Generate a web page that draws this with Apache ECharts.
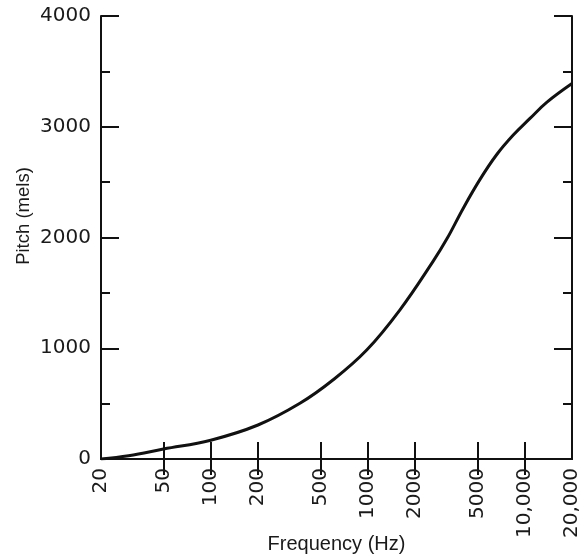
<!DOCTYPE html>
<html>
<head>
<meta charset="utf-8">
<script src="https://cdn.jsdelivr.net/npm/echarts@6/dist/echarts.min.js"></script>
<style>
html,body{margin:0;padding:0;background:#fff;}
#chart{width:581px;height:558px;}
</style>
</head>
<body>
<div id="chart"></div>
<script>
// Data
var frequencyHz = [20, 30, 50, 100, 200, 370, 600, 985, 1600, 2600, 3200, 4060, 5190, 6600, 8450, 10800, 13800, 20000];
var pitchMels   = [0, 30, 90, 170, 307, 503, 713, 984, 1345, 1782, 1990, 2265, 2525, 2745, 2925, 3075, 3220, 3390];
var xTickFreqs  = [50, 100, 200, 500, 1000, 2000, 5000, 10000];
var xLabelFreqs = [20, 50, 100, 200, 500, 1000, 2000, 5000, 10000, 20000];
var xMinHz = 20, xMaxHz = 20000;
var yMin = 0, yMax = 4000, yStep = 1000;
var xTitle = 'Frequency (Hz)';
var yTitle = 'Pitch (mels)';

var L = Math.log10;
var seriesData = frequencyHz.map(function (f, i) { return [L(f), pitchMels[i]]; });
function fmt(v) {
  var f = Math.round(Math.pow(10, v));
  if (f >= 10000) return f.toLocaleString('en-US');
  return String(f);
}
var FONT = 'DejaVu Sans';
var TFONT = 'Liberation Sans';
var axisLine = { show: true, lineStyle: { color: '#111', width: 2 } };

var chart = echarts.init(document.getElementById('chart'), null, { renderer: 'canvas' });
chart.setOption({
  animation: false,
  backgroundColor: '#fff',
  grid: { left: 101, right: 9, top: 16, bottom: 99, containLabel: false, outerBoundsMode: 'none' },
  xAxis: [{
    type: 'value', position: 'bottom',
    min: L(xMinHz), max: L(xMaxHz),
    axisLine: axisLine,
    axisTick: { show: true, inside: true, length: 17, customValues: xTickFreqs.map(L), lineStyle: { color: '#111', width: 2 } },
    axisLabel: { show: true, customValues: xLabelFreqs.map(L), rotate: 90, margin: 9, formatter: fmt,
                 fontFamily: FONT, fontSize: 20, color: '#1a1a1a' },
    splitLine: { show: false },
    name: xTitle, nameLocation: 'middle', nameGap: 75, nameMoveOverlap: false,
    nameTextStyle: { fontFamily: TFONT, fontSize: 20, color: '#1a1a1a' }
  }, {
    type: 'value', position: 'top',
    min: L(xMinHz), max: L(xMaxHz),
    axisLine: axisLine,
    axisTick: { show: true, inside: true, length: 16, customValues: xTickFreqs.map(L), lineStyle: { color: '#111', width: 2 } },
    axisLabel: { show: false },
    splitLine: { show: false }
  }],
  yAxis: [{
    type: 'value', position: 'left',
    min: yMin, max: yMax, interval: yStep,
    axisLine: axisLine,
    axisTick: { show: true, inside: true, length: 18, lineStyle: { color: '#111', width: 2 } },
    minorTick: { show: true, splitNumber: 2, length: 9, lineStyle: { color: '#111', width: 2 } },
    axisLabel: { show: true, margin: 10, fontFamily: FONT, fontSize: 20, color: '#1a1a1a',
                 formatter: function (v) { return String(v); } },
    splitLine: { show: false }
  }, {
    type: 'value', position: 'right',
    min: yMin, max: yMax, interval: yStep,
    axisLine: axisLine,
    axisTick: { show: true, inside: true, length: 18, lineStyle: { color: '#111', width: 2 } },
    minorTick: { show: true, splitNumber: 2, length: 9, lineStyle: { color: '#111', width: 2 } },
    axisLabel: { show: false },
    splitLine: { show: false }
  }],
  graphic: [{
    type: 'text', x: 24, y: 216, rotation: Math.PI / 2,
    style: { text: yTitle, fontFamily: TFONT, fontSize: 18.5, fill: '#1a1a1a', textAlign: 'center', textVerticalAlign: 'middle' }
  }],
  series: [{
    type: 'line', xAxisIndex: 0, yAxisIndex: 0,
    data: seriesData,
    smooth: 0.4,
    showSymbol: false,
    lineStyle: { color: '#111', width: 3 }
  }]
});
</script>
</body>
</html>
